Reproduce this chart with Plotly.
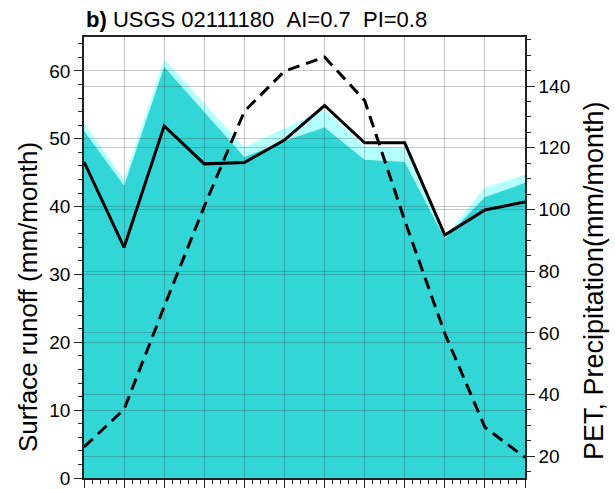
import plotly.graph_objects as go

months = list(range(1, 13))
month_labels = ["Jan", "Feb", "Mar", "Apr", "May", "Jun", "Jul", "Aug", "Sep", "Oct", "Nov", "Dec"]

# surface runoff (left axis, mm/month)
runoff_line = [46.6, 34.0, 51.9, 46.3, 46.5, 49.8, 54.9, 49.4, 49.4, 35.8, 39.5, 40.7]
runoff_dark = [51.2, 43.1, 60.6, 53.9, 47.3, 49.7, 51.7, 46.9, 46.6, 35.3, 41.4, 43.5]
runoff_light = [52.4, 44.0, 61.8, 55.2, 48.8, 51.6, 54.3, 48.9, 48.7, 35.6, 42.8, 44.7]
# PET / precipitation (right axis, mm/month)
pet = [23.0, 35.2, 68.5, 101.0, 131.8, 144.8, 149.4, 135.3, 96.4, 59.8, 29.4, 19.6]

left_range = [0, 65]
right_range = [12.95, 155.9]

title_text = "<b>b)</b> USGS 02111180 \u00a0AI=0.7 \u00a0PI=0.8"
left_title = "Surface runoff (mm/month)"
right_title = "PET, Precipitation(mm/month)"

FONT = "Liberation Sans, Arial, Helvetica, sans-serif"
W, H = 615, 489

fig = go.Figure()

fig.add_trace(go.Scatter(
    x=months, y=runoff_dark, mode="lines", fill="tozeroy",
    line=dict(width=0, color="rgba(0,0,0,0)"),
    fillcolor="rgba(0,204,204,0.8)", hoverinfo="skip", showlegend=False))
fig.add_trace(go.Scatter(
    x=months, y=runoff_light, mode="lines", fill="tonexty",
    line=dict(width=0, color="rgba(0,0,0,0)"),
    fillcolor="rgba(105,255,255,0.5)", hoverinfo="skip", showlegend=False))
fig.add_trace(go.Scatter(
    x=months, y=runoff_line, mode="lines",
    line=dict(width=3, color="black"), showlegend=False))
fig.add_trace(go.Scatter(
    x=months, y=pet, mode="lines", yaxis="y2",
    line=dict(width=3, color="black", dash="12px,7px"), showlegend=False))

# overlay subplot used only to draw the grid above the filled areas
fig.add_trace(go.Scatter(x=[None], y=[None], xaxis="x2", yaxis="y3",
                         showlegend=False, hoverinfo="skip"))
fig.add_trace(go.Scatter(x=[None], y=[None], xaxis="x2", yaxis="y4",
                         showlegend=False, hoverinfo="skip"))

grid_col = "rgba(40,40,40,0.25)"

fig.update_layout(
    width=W, height=H,
    margin=dict(l=84, r=90, t=37, b=11),
    paper_bgcolor="white", plot_bgcolor="rgba(0,0,0,0)",
    font=dict(family=FONT, color="black", size=19),
    title=dict(
        text=title_text,
        x=0.0, xref="paper", xanchor="left",
        y=1 - 19 / H, yref="container", yanchor="middle",
        font=dict(size=22, family=FONT, color="black"), pad=dict(l=2)),
    xaxis=dict(
        range=[1, 12], tickmode="linear", tick0=1, dtick=1, automargin=False,
        ticks="outside", ticklen=8, tickwidth=1.2, tickcolor="#222",
        showticklabels=False, showgrid=False, zeroline=False,
        showline=True, linecolor="#222", linewidth=1.5, mirror=True,
        minor=dict(ticks="outside", dtick=0.2, tick0=1, ticklen=4,
                   tickwidth=1, tickcolor="#222", showgrid=False)),
    yaxis=dict(
        range=left_range, tickmode="linear", tick0=0, dtick=10, automargin=False,
        ticks="outside", ticklen=8, tickwidth=1.2, tickcolor="#222",
        tickfont=dict(size=19), showgrid=False, zeroline=False,
        showline=True, linecolor="#222", linewidth=1.5,
        minor=dict(ticks="outside", dtick=2, tick0=0, ticklen=4,
                   tickwidth=1, tickcolor="#222", showgrid=False)),
    yaxis2=dict(
        range=right_range, overlaying="y", side="right", automargin=False,
        tickmode="linear", tick0=20, dtick=20,
        ticks="outside", ticklen=8, tickwidth=1.2, tickcolor="#222",
        tickfont=dict(size=19), showgrid=False, zeroline=False,
        showline=True, linecolor="#222", linewidth=1.5,
        minor=dict(ticks="outside", dtick=5, tick0=20, ticklen=4,
                   tickwidth=1, tickcolor="#222", showgrid=False)),
    xaxis2=dict(
        range=[1, 12], anchor="y3", domain=[0, 1], tickmode="linear", tick0=1, dtick=1,
        showticklabels=False, ticks="", showline=False, zeroline=False, automargin=False,
        showgrid=True, gridcolor=grid_col, gridwidth=1.2),
    yaxis3=dict(
        range=left_range, anchor="x2", domain=[0, 1], tickmode="linear", tick0=0, dtick=10,
        showticklabels=False, ticks="", showline=False, zeroline=False, automargin=False,
        showgrid=True, gridcolor=grid_col, gridwidth=1.2),
    yaxis4=dict(
        range=right_range, anchor="x2", overlaying="y3", side="right",
        tickmode="linear", tick0=20, dtick=20, automargin=False,
        showticklabels=False, ticks="", showline=False, zeroline=False,
        showgrid=True, gridcolor=grid_col, gridwidth=1.2),
    annotations=[
        dict(text=left_title, textangle=-90, xref="paper", yref="paper",
             x=-(84 - 28) / 441, y=(478 - 297) / 441, xanchor="center", yanchor="middle",
             showarrow=False, font=dict(size=26, family=FONT, color="black")),
        dict(text=right_title, textangle=-90, xref="paper", yref="paper",
             x=1 + (594 - 525) / 441, y=(478 - 281) / 441, xanchor="center", yanchor="middle",
             showarrow=False, font=dict(size=27, family=FONT, color="black")),
    ],
)

fig.write_html("out.html", config={"displayModeBar": False},
               post_script="document.body.style.margin='0';")
